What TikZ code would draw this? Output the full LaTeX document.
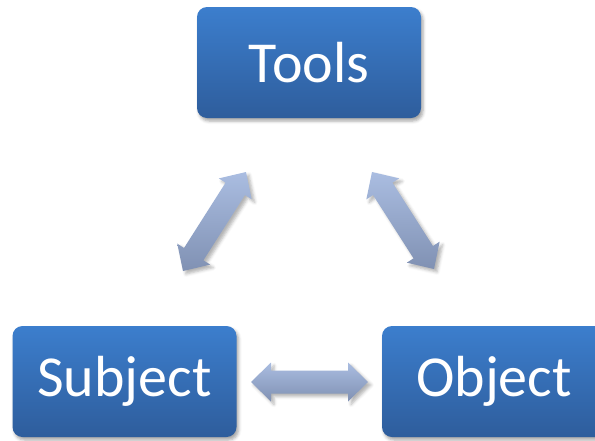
\documentclass[tikz,border=0pt]{standalone}
\usepackage{fontspec}
\setmainfont{Carlito}
\usetikzlibrary{calc,shadows.blur}

\definecolor{boxtop}{HTML}{3C7ECD}
\definecolor{boxbottom}{HTML}{2E5D9C}
\definecolor{linktop}{HTML}{AABDE1}
\definecolor{linkbottom}{HTML}{8091B3}

\tikzset{
    stage/.style = {rectangle, rounded corners = 10pt, top color = boxtop, bottom color = boxbottom,
        text = white, minimum width = 224pt, minimum height = 111pt,
        font = \fontsize{58}{60}\selectfont,
        blur shadow = {shadow xshift = 2pt, shadow yshift = -3pt, shadow blur radius = 3pt, shadow opacity = 35}},
    link/.style = {top color = linktop, bottom color = linkbottom,
        blur shadow = {shadow xshift = 3pt, shadow yshift = -3pt, shadow blur radius = 3pt, shadow opacity = 30}}
}

% double block arrow between two named points
\newcommand{\fatlink}[2]{%
    \path [link] (#1)
        -- ($(#1)!20pt!(#2)!19.5pt!90:(#2)$) -- ($(#1)!20pt!(#2)!11.5pt!90:(#2)$)
        -- ($(#2)!20pt!(#1)!11.5pt!-90:(#1)$) -- ($(#2)!20pt!(#1)!19.5pt!-90:(#1)$)
        -- (#2)
        -- ($(#2)!20pt!(#1)!19.5pt!90:(#1)$) -- ($(#2)!20pt!(#1)!11.5pt!90:(#1)$)
        -- ($(#1)!20pt!(#2)!11.5pt!-90:(#2)$) -- ($(#1)!20pt!(#2)!19.5pt!-90:(#2)$)
        -- cycle;
}

\begin{document}
\begin{tikzpicture}[x = 1pt, y = -1pt]
    \useasboundingbox (0,0) rectangle (595,440);

    % Draw the three stages:
    \node [stage] (tools)   at (309,62.5)  {Tools};
    \node [stage] (subject) at (124.5,381.5) {Subject};
    \node [stage] (object)  at (494,381.5) {Object};

    % Arrow ends:
    \coordinate (ts-top) at (246,172);
    \coordinate (ts-bot) at (183,271);
    \coordinate (to-top) at (372,172);
    \coordinate (to-bot) at (434,269);
    \coordinate (so-left)  at (251,382);
    \coordinate (so-right) at (368,382);

    % Draw the links:
    \fatlink{ts-top}{ts-bot}
    \fatlink{to-top}{to-bot}
    \fatlink{so-left}{so-right}
\end{tikzpicture}
\end{document}
